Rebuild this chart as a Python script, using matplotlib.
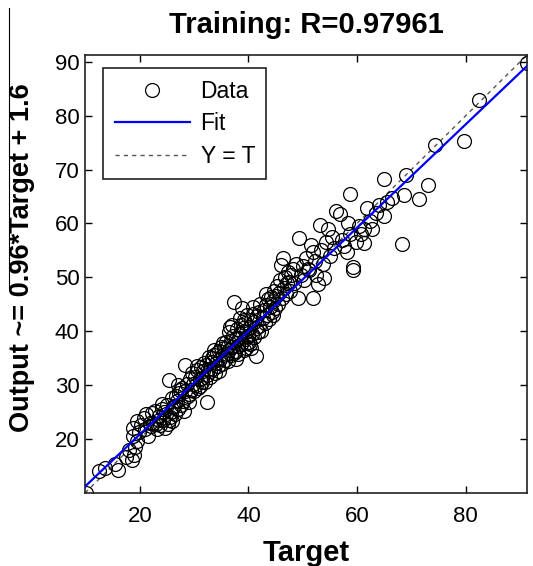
import numpy as np
import matplotlib
matplotlib.use("Agg")
import matplotlib.pyplot as plt
from matplotlib.lines import Line2D

plt.rcParams['font.family'] = ['Liberation Sans', 'DejaVu Sans']

# Target / Output pairs
target = [
    10.1, 12.5, 13.5, 15.5, 16.0, 17.5, 18.0, 18.5, 19.0, 19.2, 19.5, 18.7, 19.8, 20.2, 19.4,
    20.8, 21.0, 21.5, 22.0, 22.5, 18.8, 21.2, 21.8, 22.3, 23.0, 23.6, 24.1, 24.5, 25.4, 26.1,
    22.8, 23.2, 23.5, 23.8, 24.0, 24.3, 24.6, 24.8, 25.0, 25.2, 25.3, 25.5, 25.7, 25.9, 26.0,
    26.3, 26.5, 26.8, 27.0, 27.1, 27.3, 27.5, 27.8, 28.0, 28.2, 28.4, 28.4, 28.6, 28.8, 29.0,
    29.2, 29.4, 29.6, 29.8, 30.0, 26.7, 27.4, 29.1, 30.5, 31.1,
    30.2, 30.4, 30.6, 30.8, 31.0, 31.2, 31.4, 31.5, 31.7, 31.9, 32.0, 32.1, 32.3, 32.4, 32.5,
    32.7, 32.9, 33.0, 33.2, 33.3, 33.5, 33.7, 33.9, 34.0, 34.2, 34.4, 34.5, 34.7, 34.9, 35.1,
    35.3, 35.5, 35.7, 35.8, 36.0, 33.6, 34.6, 35.4, 36.6, 37.8,
    36.2, 36.3, 36.4, 36.5, 36.7, 36.8, 37.0, 37.0, 37.2, 37.3, 37.4, 37.6, 37.7, 37.9, 38.0,
    38.1, 38.3, 38.4, 38.5, 38.7, 38.9, 39.0, 39.1, 39.3, 39.4, 39.5, 39.5, 39.7, 39.8, 40.0,
    40.1, 40.2, 40.4, 40.5, 40.7, 40.8, 41.0, 41.1, 41.3, 41.4, 41.6, 41.8, 42.0, 42.0, 42.2,
    38.6, 39.2, 40.3, 40.9, 43.3, 44.6,
    42.4, 42.6, 42.8, 43.0, 43.2, 43.4, 43.6, 43.8, 44.0, 44.1, 44.3, 44.5, 44.7, 44.9, 45.1,
    45.3, 45.5, 45.7, 45.9, 46.0, 46.1, 46.3, 46.5, 46.7, 46.9, 47.1, 47.3, 47.5, 47.7, 47.9,
    48.2, 48.4, 48.7, 49.1, 49.4,
    49.7, 50.0, 50.3, 50.6, 50.9, 51.2, 51.6, 51.9, 51.9, 52.2, 52.5, 52.8, 53.1, 53.4, 53.7,
    54.0, 54.3, 54.7, 55.0, 55.4, 55.8, 56.2, 56.8, 57.2, 57.6, 58.1, 58.4, 58.7, 58.7, 59.2,
    59.3, 59.9, 60.3, 60.8, 61.2, 61.2, 61.8, 62.3, 62.7,
    63.5, 64.0, 65.0, 65.0, 65.5, 66.5, 68.3, 68.7, 69.1, 71.4, 73.0, 74.3, 79.7, 82.5, 91.3,
]
output = [
    9.9, 14.0, 14.5, 15.3, 14.2, 16.5, 17.8, 16.0, 17.0, 18.5, 19.5, 20.5, 21.2, 22.5, 23.3,
    23.8, 21.8, 20.5, 22.3, 23.0, 22.0, 24.5, 23.0, 24.8, 22.8, 23.5, 26.5, 24.9, 23.5, 25.8,
    25.2, 21.8, 24.2, 22.6, 25.5, 23.5, 21.9, 24.6, 26.3, 22.8, 30.9, 24.0, 25.0, 27.5, 23.2,
    26.0, 24.5, 27.0, 25.5, 30.0, 28.4, 26.3, 29.5, 27.0, 25.2, 28.8, 33.7, 30.2, 28.0, 26.9,
    31.0, 29.0, 32.2, 30.2, 28.8, 28.0, 29.0, 28.3, 33.5, 29.8,
    31.5, 30.0, 32.8, 29.5, 31.0, 33.4, 31.2, 30.5, 32.5, 34.0, 30.6, 33.7, 31.8, 26.9, 33.0,
    35.2, 31.4, 32.5, 34.3, 34.9, 33.0, 35.5, 32.2, 34.0, 36.0, 33.5, 36.2, 34.8, 37.0, 33.8,
    35.5, 36.8, 34.6, 38.0, 35.8, 36.5, 32.5, 37.8, 40.8, 34.8,
    37.2, 34.5, 39.9, 36.5, 38.2, 35.5, 41.1, 37.0, 39.0, 45.4, 36.0, 36.2, 38.5, 40.3, 37.2,
    35.8, 38.7, 42.5, 39.5, 37.5, 44.2, 40.5, 36.5, 38.5, 41.5, 39.9, 36.8, 37.8, 43.0, 39.0,
    38.0, 40.8, 36.9, 42.0, 39.5, 44.5, 41.7, 38.8, 35.3, 40.5, 42.8, 39.8, 43.6, 41.0, 45.0,
    41.2, 42.0, 37.5, 43.2, 46.8, 43.0,
    40.0, 42.5, 44.0, 41.5, 44.8, 43.0, 46.0, 42.2, 44.5, 46.4, 43.5, 45.5, 47.5, 44.2, 46.5,
    48.3, 45.0, 47.0, 49.5, 52.2, 46.2, 53.5, 48.0, 50.0, 46.8, 49.0, 51.0, 49.2, 47.5, 50.5,
    51.6, 49.0, 52.5, 46.1, 57.2,
    50.5, 52.0, 49.5, 53.5, 51.5, 51.3, 56.0, 54.7, 46.1, 53.0, 50.5, 48.8, 59.7, 55.0, 52.5,
    49.8, 56.5, 59.0, 54.0, 57.5, 55.5, 62.4, 61.8, 57.0, 55.8, 54.7, 60.0, 58.1, 65.5, 51.3,
    51.9, 56.6, 59.5, 58.0, 59.0, 56.3, 62.9, 60.5, 59.0,
    62.0, 63.5, 61.3, 68.3, 64.0, 64.8, 56.1, 65.2, 69.0, 64.6, 67.2, 74.5, 75.4, 83.0, 89.8,
]
fit_slope = 0.96
fit_icpt = 1.6
r_value = 0.97961

x_ticks = [20, 40, 60, 80]
y_ticks = [20, 30, 40, 50, 60, 70, 80, 90]

fig = plt.figure(figsize=(5.33, 5.66), dpi=100)
ax = fig.add_axes([85 / 533, 1 - 493 / 566, 442 / 533, 438 / 566])

lo = min(min(target), min(output))
hi = max(max(target), max(output))
line_x = np.array([lo, hi])

ax.plot(target, output, linestyle='none', marker='o', markersize=10,
        markerfacecolor='none', markeredgecolor='black', markeredgewidth=0.9,
        label='Data', zorder=2)
ax.plot(line_x, fit_slope * line_x + fit_icpt, color='#0000ff', linewidth=1.6,
        label='Fit', zorder=3)
ax.plot(line_x, line_x, color='#555555', linewidth=1.0, linestyle=(0, (3, 3)),
        label='Y = T', zorder=1)

ax.set_xlim(lo, hi)
ax.set_ylim(lo, hi)
ax.set_xticks(x_ticks)
ax.set_yticks(y_ticks)
ax.tick_params(direction='in', length=5, width=1, top=True, right=True,
               labelsize=16, pad=9)
ax.tick_params(axis='y', pad=4)
for sp in ax.spines.values():
    sp.set_linewidth(1.2)
    sp.set_color('#222222')

ax.set_title('Training: R=%.5f' % r_value, fontsize=21, fontweight='bold', pad=16)
ax.set_xlabel('Target', fontsize=21, fontweight='bold', labelpad=9)
fig.text(22 / 533, 1 - 258 / 566, 'Output ~= %.2g*Target + %.2g' % (fit_slope, fit_icpt),
         rotation=90, ha='center', va='center', fontsize=19.5, fontweight='bold')

leg = ax.legend(loc='upper left', bbox_to_anchor=(0.041, 0.970), borderaxespad=0,
                fontsize=16.5, handlelength=3.3, handletextpad=0.45, labelspacing=0.42,
                borderpad=0.5, fancybox=False, framealpha=1, edgecolor='#222222')
leg.get_frame().set_linewidth(1.2)

# stray divider line at the far left of the original crop
fig.add_artist(Line2D([9 / 533, 9 / 533], [1 - 8 / 566, 1 - 288 / 566],
                      color='black', linewidth=0.8))

fig.savefig('out.png', dpi=100)
